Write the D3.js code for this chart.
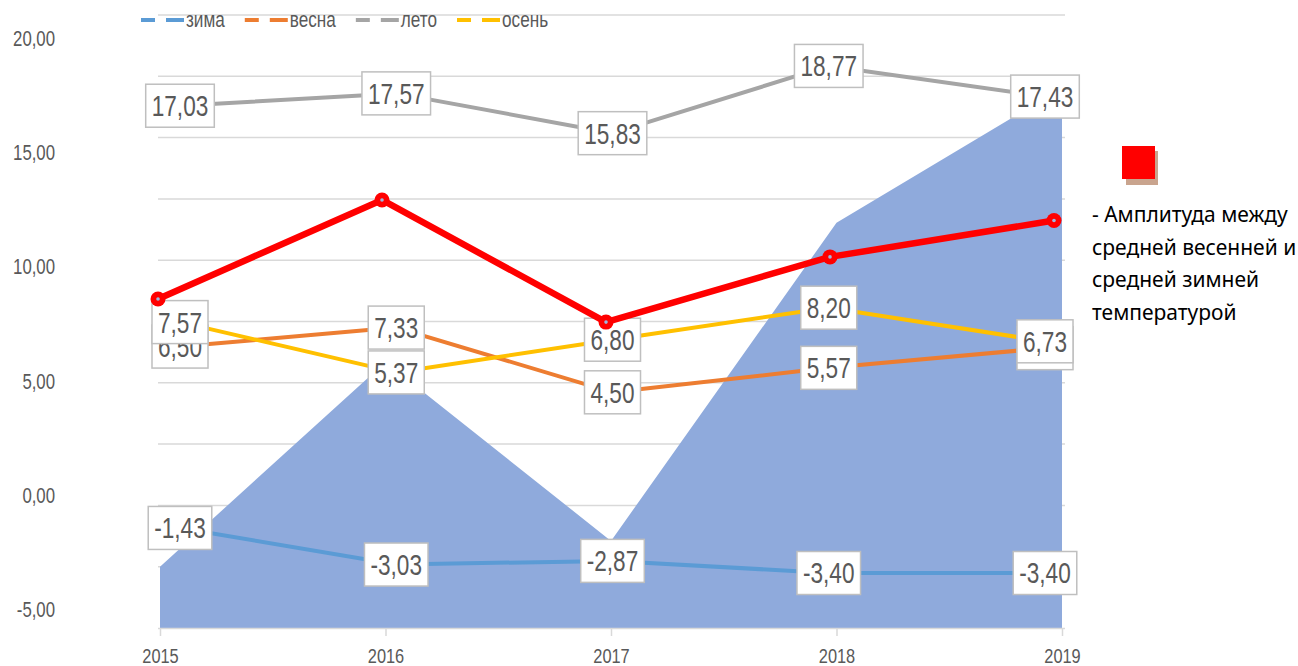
<!DOCTYPE html>
<html lang="ru">
<head>
<meta charset="UTF-8">
<title>Средние температуры по сезонам</title>
<style>
    body { margin: 0; background: #fff; }
    svg text { font-family: "Liberation Sans", Arial, sans-serif; }
    svg text.note { font-family: "Noto Sans", "Open Sans", sans-serif; }
</style>
</head>
<body>
<svg id="chart" width="1298" height="666"></svg>

<script src="https://cdn.jsdelivr.net/npm/d3@7/dist/d3.min.js"></script>
<script>
    // data
    const years = ["2015", "2016", "2017", "2018", "2019"]
    const seriesNames = ["зима", "весна", "лето", "осень"]
    const winter = [-1.43, -3.03, -2.87, -3.40, -3.40]
    const spring = [6.50, 7.33, 4.50, 5.57, 6.43]
    const summer = [17.03, 17.57, 15.83, 18.77, 17.43]
    const autumn = [7.57, 5.37, 6.80, 8.20, 6.73]
    // red overlay line, in units of the left axis
    const amplitude = [8.58, 12.91, 7.57, 10.42, 12.01]
    // blue area, on its own hidden 0..10 axis
    const areaValues = [1.00, 4.34, 1.42, 6.61, 8.81]
    const yTicks = [-5, 0, 5, 10, 15, 20]
    const noteLines = ["- Амплитуда между", "средней весенней и", "средней зимней", "температурой"]

    const colors = ["#5b9bd5", "#ed7d31", "#a5a5a5", "#ffc000"]
    const SX = 0.78   // the picture is horizontally squeezed, so is its text
    const textGrey = "#595959"
    const gridGrey = "#d9d9d9"

    const fmt = d3.formatLocale({ decimal: ",", thousands: " ", grouping: [3], currency: ["", ""], minus: "-" }).format(".2f")

    const svg = d3.select("#chart")

    let yMain = d3.scaleLinear().domain([-5, 20]).range([609.6, 37.8])
    let xLines = d3.scalePoint().domain(years).range([180, 1045])
    let xAmp = d3.scalePoint().domain(years).range([158, 1054])
    let xArea = d3.scalePoint().domain(years).range([160, 1062])
    let yArea = d3.scaleLinear().domain([0, 10]).range([628, 15])

    // gridlines of the area chart
    svg.append("g").selectAll("line")
        .data(yArea.ticks(10).filter(d => d > 0))
        .join("line")
        .attr("x1", 158).attr("x2", 1065)
        .attr("y1", d => yArea(d)).attr("y2", d => yArea(d))
        .attr("stroke", gridGrey).attr("stroke-width", 1.5)

    // area
    let area = d3.area()
        .x((d, i) => xArea(years[i]))
        .y0(yArea(0))
        .y1(d => yArea(d))
    svg.append("path")
        .datum(areaValues)
        .attr("d", area)
        .attr("fill", "#8faadc")

    // x axis
    let xAxis = d3.axisBottom(xArea).tickSizeInner(8).tickSizeOuter(0)
    let xg = svg.append("g")
        .attr("transform", `translate(0,${yArea(0)})`)
        .call(xAxis)
    xg.select(".domain").attr("stroke", gridGrey).attr("stroke-width", 1.5)
        .attr("d", "M158,0.5H1065")
    xg.selectAll(".tick line").attr("stroke", gridGrey).attr("stroke-width", 1.5)
    xg.selectAll(".tick text")
        .attr("y", 0).attr("dy", null)
        .attr("transform", `translate(0,35) scale(${SX},1)`)
        .attr("fill", textGrey)
        .style("font-size", "21px")

    // left axis labels
    svg.append("g").selectAll("text")
        .data(yTicks)
        .join("text")
        .attr("transform", d => `translate(55,${yMain(d)}) scale(${SX},1)`)
        .attr("text-anchor", "end")
        .attr("dy", "0.36em")
        .attr("fill", textGrey)
        .style("font-size", "21.5px")
        .text(d => fmt(d))

    // season lines
    const series = [winter, spring, summer, autumn]
    let line = d3.line().x((d, i) => xLines(years[i])).y(d => yMain(d))
    svg.append("g").selectAll("path")
        .data(series)
        .join("path")
        .attr("d", line)
        .attr("fill", "none")
        .attr("stroke", (d, i) => colors[i])
        .attr("stroke-width", 4)
        .attr("stroke-linejoin", "round")

    // data labels
    let labels = svg.append("g")
    series.forEach((values) => {
        values.forEach((v, j) => {
            let g = labels.append("g")
                .attr("transform", `translate(${xLines(years[j])},${yMain(v)})`)
            let box = g.append("rect")
            let t = g.append("text")
                .attr("transform", `scale(${SX},1)`)
                .attr("text-anchor", "middle")
                .attr("dy", "0.36em")
                .attr("fill", textGrey)
                .style("font-size", "29px")
                .text(fmt(v))
            let w = t.node().getComputedTextLength() * SX + 12
            box.attr("x", -w / 2).attr("y", -21.5)
                .attr("width", w).attr("height", 43)
                .attr("fill", "#fff")
                .attr("stroke", "#bfbfbf").attr("stroke-width", 1.5)
        })
    })

    // red amplitude line on top
    let ampLine = d3.line().x((d, i) => xAmp(years[i])).y(d => yMain(d))
    svg.append("path")
        .datum(amplitude)
        .attr("d", ampLine)
        .attr("fill", "none")
        .attr("stroke", "#ff0000")
        .attr("stroke-width", 6.5)
        .attr("stroke-linejoin", "round")
    let marks = svg.append("g").selectAll("g")
        .data(amplitude)
        .join("g")
        .attr("transform", (d, i) => `translate(${xAmp(years[i])},${yMain(d)})`)
    marks.append("circle").attr("r", 7.5).attr("fill", "#ff0000")
    marks.append("circle").attr("r", 1.8).attr("fill", "#9db8e0")

    // legend
    let legend = svg.append("g")
    let lx = 141
    seriesNames.forEach((name, i) => {
        legend.append("line")
            .attr("x1", lx).attr("x2", lx + 14).attr("y1", 20).attr("y2", 20)
            .attr("stroke", colors[i]).attr("stroke-width", 4)
        legend.append("line")
            .attr("x1", lx + 25).attr("x2", lx + 43).attr("y1", 20).attr("y2", 20)
            .attr("stroke", colors[i]).attr("stroke-width", 4)
        let t = legend.append("text")
            .attr("transform", `translate(${lx + 45},27) scale(${SX},1)`)
            .attr("fill", textGrey)
            .style("font-size", "22px")
            .text(name)
        lx += 45 + t.node().getComputedTextLength() * SX + 20
    })

    // note on the right
    svg.append("rect").attr("x", 1126).attr("y", 151).attr("width", 32).attr("height", 34)
        .attr("fill", "#c9a48e")
    svg.append("rect").attr("x", 1122).attr("y", 146).attr("width", 33).attr("height", 33)
        .attr("fill", "#ff0000")
    svg.append("g").selectAll("text")
        .data(noteLines)
        .join("text")
        .attr("class", "note")
        .attr("x", 1092)
        .attr("y", (d, i) => 222 + i * 32.7)
        .attr("fill", "#000")
        .style("font-size", "21px")
        .text(d => d)
</script>
</body>
</html>
